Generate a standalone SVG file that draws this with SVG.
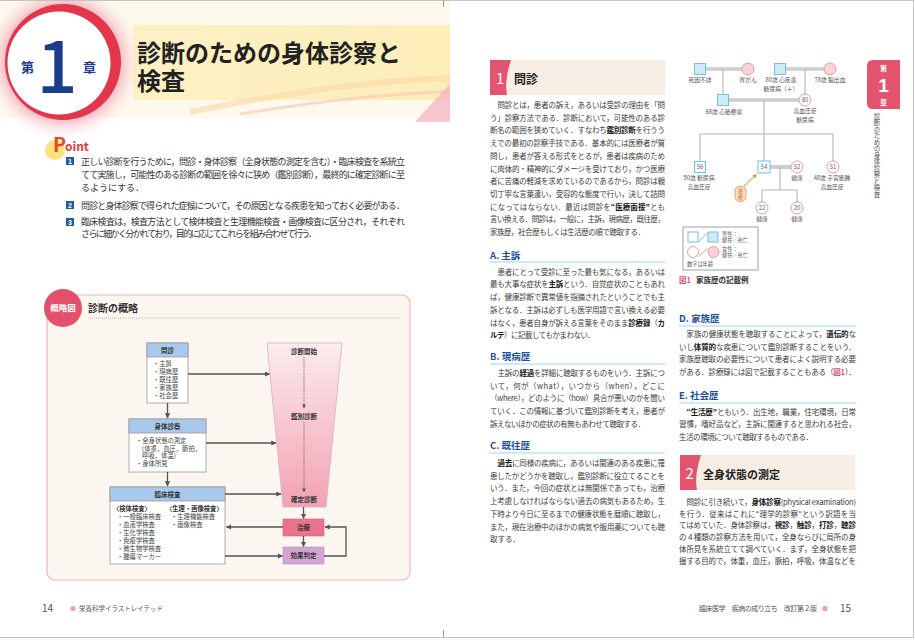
<svg xmlns="http://www.w3.org/2000/svg" width="915" height="640" viewBox="0 0 915 640">
<defs>
<style>
text{font-family:"Noto Sans CJK JP","Noto Sans",sans-serif}
.bt{font-size:7.5px;fill:#3a3a3a}
.b{font-weight:700;fill:#151515}
.h{font-size:9.5px;font-weight:700;fill:#1d4f9f}
.ul{stroke:#9fd6f0;stroke-width:1.1}
.pt{font-size:9px;fill:#333}
.num{font-family:"Liberation Sans",sans-serif;font-size:7px;font-weight:700;fill:#fff;text-anchor:middle}
.dg{font-size:6.3px;fill:#444}
.dgb{font-size:6.5px;font-weight:700;fill:#333;text-anchor:middle}
.dgh{font-size:6.3px;font-weight:700;fill:#333}
.box{fill:#fff;stroke:#9a9a9a;stroke-width:.8}
.hdr{fill:#a9c9ec;stroke:#9a9a9a;stroke-width:.8}
.ar{stroke:#555;stroke-width:1.3;fill:none;marker-end:url(#ah)}
.dot{stroke:#666;stroke-width:1;fill:none;stroke-dasharray:1.2 1.2;marker-end:url(#ah)}
.fl{stroke:#b4b4b4;stroke-width:1.1;fill:none}
.mr{stroke:#b0b0b0;stroke-width:3.2;fill:none}
.mr2{stroke:#ededed;stroke-width:1;fill:none}
.sqd{fill:#cfe9f8;stroke:#6cc2e8;stroke-width:1}
.sqa{fill:#fff;stroke:#6cc2e8;stroke-width:1}
.cd{fill:#f8d4d9;stroke:#e98f9c;stroke-width:.9}
.ca{fill:#fff;stroke:#e98f9c;stroke-width:.9}
.fn{font-size:5.8px;fill:#555;text-anchor:middle}
.fa{font-size:6px;fill:#666;text-anchor:middle}
.lg{font-size:5.2px;fill:#555}
</style>
<marker id="ah" viewBox="0 0 10 10" refX="9" refY="5" markerWidth="4" markerHeight="4" orient="auto"><path d="M0,0 L10,5 L0,10 Z" fill="#555"/></marker>
<marker id="oh" viewBox="0 0 10 10" refX="9" refY="5" markerWidth="4" markerHeight="4" orient="auto"><path d="M0,0 L10,5 L0,10 Z" fill="#ef8a3c"/></marker>
<radialGradient id="glow" cx="0.5" cy="0.5" r="0.5">
<stop offset="0.7" stop-color="#f3a3b0" stop-opacity="0.9"/>
<stop offset="1" stop-color="#fde8ea" stop-opacity="0"/>
</radialGradient>
<linearGradient id="band" x1="0" y1="0" x2="1" y2="0">
<stop offset="0" stop-color="#fdf0c4"/>
<stop offset="1" stop-color="#fdeeb9"/>
</linearGradient>
<linearGradient id="fun" x1="0" y1="0" x2="0" y2="1">
<stop offset="0" stop-color="#fcebee"/>
<stop offset="1" stop-color="#f2a2b2"/>
</linearGradient>
</defs>

<rect width="915" height="640" fill="#fff"/>

<!-- Header -->
<g id="header">
<rect x="0" y="0" width="450" height="118" fill="#fdf9ec"/>
<rect x="133" y="25" width="317" height="75" fill="url(#band)"/>
<path d="M190,112 C270,96 350,82 450,78" stroke="#fbd6a6" stroke-width="6" fill="none" opacity="0.55"/>
<path d="M240,114 C320,101 390,93 450,92" stroke="#f8c4b6" stroke-width="3" fill="none" opacity="0.6"/>
<path d="M415,122 C428,108 438,96 450,84 L450,122 Z" fill="#f4b0c0" opacity="0.7"/>
<circle cx="63" cy="62" r="78" fill="url(#glow)"/>
<circle cx="63" cy="62" r="58" fill="#e3354b"/>
<circle cx="59" cy="63" r="51.5" fill="#fff"/>
<text x="21" y="72" font-size="13" font-weight="700" fill="#1c3c8e">第</text>
<text x="57" y="93" font-family="Noto Sans,sans-serif" font-size="72" font-weight="500" fill="#1c3c8e" text-anchor="middle">1</text>
<text x="83" y="72" font-size="13" font-weight="700" fill="#1c3c8e">章</text>
<text x="137" y="62" font-size="24" font-weight="700" fill="#222">診断のための身体診察と<tspan x="137" y="90">検査</tspan></text>
</g>

<!-- Point -->
<g id="point">
<circle cx="55" cy="150" r="10" fill="#fbe27c"/>
<text x="53" y="152" font-family="Liberation Sans,sans-serif" font-size="19.5" font-weight="700" fill="#e9452e">P</text>
<text x="65" y="151" font-family="Liberation Sans,sans-serif" font-size="12" font-weight="700" fill="#e8383d">oint</text>
<rect x="66" y="157" width="8" height="8" fill="#1f5aa6"/><text class="num" x="70" y="163.6">1</text>
<text class="pt" x="81" y="165" textLength="324" lengthAdjust="spacing">正しい診断を行うために，問診・身体診察（全身状態の測定を含む）・臨床検査を系統立</text>
<text class="pt" x="81" y="178.3" textLength="324" lengthAdjust="spacing">てて実施し，可能性のある診断の範囲を徐々に狭め（鑑別診断），最終的に確定診断に至</text>
<text class="pt" x="81" y="190.8">るようにする．</text>
<rect x="66" y="201" width="8" height="8" fill="#1f5aa6"/><text class="num" x="70" y="207.6">2</text>
<text class="pt" x="81" y="208.5" textLength="324" lengthAdjust="spacing">問診と身体診察で得られた症候について，その原因となる疾患を知っておく必要がある．</text>
<rect x="66" y="218" width="8" height="8" fill="#1f5aa6"/><text class="num" x="70" y="224.6">3</text>
<text class="pt" x="81" y="225" textLength="324" lengthAdjust="spacing">臨床検査は，検査方法として検体検査と生理機能検査・画像検査に区分され，それぞれ</text>
<text class="pt" x="81" y="237" textLength="236" lengthAdjust="spacing">さらに細かく分かれており，目的に応じてこれらを組み合わせて行う．</text>
</g>

<!-- Overview frame -->
<g id="overview-frame">
<rect x="47" y="295" width="363" height="285" rx="8" fill="#fcf6f1" stroke="#f5b3bd" stroke-width="1.2"/>
<circle cx="63" cy="308" r="19" fill="#e4506c"/>
<text x="63" y="311" font-size="8.5" font-weight="700" fill="#fff" text-anchor="middle">概略図</text>
<text x="88" y="312" font-size="10" font-weight="700" fill="#333">診断の概略</text>
<line x1="88" y1="318" x2="400" y2="318" stroke="#aaa" stroke-width=".8" stroke-dasharray="1 1"/>
</g>

<g id="n-monshin">
<rect class="box" x="147" y="343" width="41" height="60"/>
<rect class="hdr" x="147" y="343" width="41" height="14"/>
<text class="dgb" x="167.5" y="352.5">問診</text>
<text class="dg" x="153" y="366">・主訴</text>
<text class="dg" x="153" y="374">・現病歴</text>
<text class="dg" x="153" y="382">・既往歴</text>
<text class="dg" x="153" y="390">・家族歴</text>
<text class="dg" x="153" y="398">・社会歴</text>
</g>

<g id="n-shintai">
<rect class="box" x="129" y="419" width="77" height="53"/>
<rect class="hdr" x="129" y="419" width="77" height="14"/>
<text class="dgb" x="167.5" y="428.5">身体診察</text>
<text class="dg" x="136" y="443">・全身状態の測定</text>
<text class="dg" x="138" y="450.5">（体重，血圧，脈拍，</text>
<text class="dg" x="142" y="458.3">呼吸，体温）</text>
<text class="dg" x="136" y="466.3">・身体所見</text>
</g>

<g id="n-rinsho">
<rect class="box" x="110" y="487" width="115" height="77"/>
<rect class="hdr" x="110" y="487" width="115" height="14"/>
<text class="dgb" x="167.5" y="496.5">臨床検査</text>
<text class="dgh" x="113" y="510.5">〈検体検査〉</text>
<text class="dgh" x="166" y="510.5">〈生理・画像検査〉</text>
<text class="dg" x="117" y="519">・一般臨床検査</text>
<text class="dg" x="117" y="527">・血液学検査</text>
<text class="dg" x="117" y="535">・生化学検査</text>
<text class="dg" x="117" y="543">・免疫学検査</text>
<text class="dg" x="117" y="551">・微生物学検査</text>
<text class="dg" x="117" y="559">・腫瘍マーカー</text>
<text class="dg" x="171" y="519">・生理機能検査</text>
<text class="dg" x="171" y="527">・画像検査</text>
</g>

<g id="n-funnel">
<polygon points="267,343 342,343 326,507 283,507" fill="url(#fun)" stroke="#d8b3bb" stroke-width=".8"/>
<text class="dgb" x="304" y="354">診断開始</text>
<text class="dgb" x="304" y="418.5">鑑別診断</text>
<text class="dgb" x="304" y="501.5">確定診断</text>
</g>

<g id="n-chiryo">
<rect x="283" y="519" width="41" height="17" fill="#e9728c" stroke="#c9657a" stroke-width=".6"/>
<text class="dgb" x="303.5" y="530">治療</text>
</g>

<g id="n-koka">
<rect x="283" y="547" width="41" height="17" fill="#d3a4d3" stroke="#b58db5" stroke-width=".6"/>
<text class="dgb" x="303.5" y="558">効果判定</text>
</g>

<g id="connectors">
<line class="ar" x1="188" y1="374" x2="269.5" y2="374"/>
<line class="ar" x1="206" y1="443" x2="276" y2="443"/>
<line class="ar" x1="225" y1="494" x2="281" y2="494"/>
<line class="ar" x1="167.5" y1="403" x2="167.5" y2="418"/>
<line class="ar" x1="167.5" y1="472" x2="167.5" y2="486"/>
<line class="dot" x1="304" y1="357" x2="304" y2="408"/>
<line class="dot" x1="304" y1="422" x2="304" y2="492"/>
<line class="ar" x1="303.5" y1="507" x2="303.5" y2="518.5"/>
<line class="ar" x1="303.5" y1="536" x2="303.5" y2="546.5"/>
<line class="ar" x1="283" y1="527" x2="226.5" y2="527"/>
<line class="ar" x1="225" y1="556" x2="282.5" y2="556"/>
<polyline class="ar" points="324,556 346,556 346,527 325,527"/>
</g>

<!-- Right page: section 1 -->
<g id="sec1">
<rect x="490" y="60" width="175" height="35" fill="#f6eee4"/>
<path d="M490,60 L511,60 C507,72 505,84 507,95 L490,95 Z" fill="#e5546f"/>
<text x="496" y="84" font-family="Liberation Sans,sans-serif" font-size="15" fill="#fff">1</text>
<text x="514" y="83.5" font-size="12" font-weight="700" fill="#222">問診</text>
<text class="bt" x="497.5" y="108" textLength="167.5" lengthAdjust="spacing">問診とは，患者の訴え，あるいは受診の理由を「問</text>
<text class="bt" x="490" y="120.7" textLength="175" lengthAdjust="spacing">う」診察方法である．診断において，可能性のある診</text>
<text class="bt" x="490" y="133.4" textLength="175" lengthAdjust="spacing">断名の範囲を狭めていく．すなわち<tspan class="b">鑑別診断</tspan>を行うう</text>
<text class="bt" x="490" y="146.1" textLength="175" lengthAdjust="spacing">えでの最初の診察手技である．基本的には医療者が質</text>
<text class="bt" x="490" y="158.8" textLength="175" lengthAdjust="spacing">問し，患者が答える形式をとるが，患者は疾病のため</text>
<text class="bt" x="490" y="171.5" textLength="175" lengthAdjust="spacing">に肉体的・精神的にダメージを受けており，かつ医療</text>
<text class="bt" x="490" y="184.2" textLength="175" lengthAdjust="spacing">者に苦痛の軽減を求めているのであるから，問診は親</text>
<text class="bt" x="490" y="196.9" textLength="175" lengthAdjust="spacing">切丁寧な言葉遣い，受容的な態度で行い，決して詰問</text>
<text class="bt" x="490" y="209.6" textLength="175" lengthAdjust="spacing">になってはならない．最近は問診を<tspan class="b">“医療面接”</tspan>とも</text>
<text class="bt" x="490" y="222.3" textLength="175" lengthAdjust="spacing">言い換える．問診は，一般に，主訴，現病歴，既往歴，</text>
<text class="bt" x="490" y="235" textLength="155" lengthAdjust="spacing">家族歴，社会歴もしくは生活歴の順で聴取する．</text>

<text class="h" x="490" y="258.5">A. 主訴</text>
<line class="ul" x1="490" y1="262" x2="665" y2="262"/>
<text class="bt" x="497.5" y="274.7" textLength="167.5" lengthAdjust="spacing">患者にとって受診に至った最も気になる，あるいは</text>
<text class="bt" x="490" y="287.4" textLength="175" lengthAdjust="spacing">最も大事な症状を<tspan class="b">主訴</tspan>という．自覚症状のこともあれ</text>
<text class="bt" x="490" y="300.1" textLength="175" lengthAdjust="spacing">ば，健康診断で異常値を指摘されたということでも主</text>
<text class="bt" x="490" y="312.8" textLength="175" lengthAdjust="spacing">訴となる．主訴は必ずしも医学用語で言い換える必要</text>
<text class="bt" x="490" y="325.5" textLength="175" lengthAdjust="spacing">はなく，患者自身が訴える言葉をそのまま<tspan class="b">診療録</tspan>（<tspan class="b">カ</tspan></text>
<text class="bt" x="490" y="338.2" textLength="105" lengthAdjust="spacing"><tspan class="b">ルテ</tspan>）に記載してもかまわない．</text>

<text class="h" x="490" y="360">B. 現病歴</text>
<line class="ul" x1="490" y1="364" x2="665" y2="364"/>
<text class="bt" x="497.5" y="376" textLength="167.5" lengthAdjust="spacing">主訴の<tspan class="b">経過</tspan>を詳細に聴取するものをいう．主訴につ</text>
<text class="bt" x="490" y="388.7" textLength="175" lengthAdjust="spacing">いて，何が（what），いつから（when），どこに</text>
<text class="bt" x="490" y="401.4" textLength="175" lengthAdjust="spacing">（where），どのように（how）具合が悪いのかを聞い</text>
<text class="bt" x="490" y="414.1" textLength="175" lengthAdjust="spacing">ていく．この情報に基づいて鑑別診断を考え，患者が</text>
<text class="bt" x="490" y="426.8" textLength="155" lengthAdjust="spacing">訴えないほかの症状の有無もあわせて聴取する．</text>

<text class="h" x="490" y="449">C. 既往歴</text>
<line class="ul" x1="490" y1="453" x2="665" y2="453"/>
<text class="bt" x="497.5" y="466" textLength="167.5" lengthAdjust="spacing"><tspan class="b">過去</tspan>に同様の疾病に，あるいは関連のある疾患に罹</text>
<text class="bt" x="490" y="478.7" textLength="175" lengthAdjust="spacing">患したかどうかを聴取し，鑑別診断に役立てることを</text>
<text class="bt" x="490" y="491.4" textLength="175" lengthAdjust="spacing">いう．また，今回の症状とは無関係であっても，治療</text>
<text class="bt" x="490" y="504.1" textLength="175" lengthAdjust="spacing">上考慮しなければならない過去の病気もあるため，生</text>
<text class="bt" x="490" y="516.8" textLength="175" lengthAdjust="spacing">下時より今日に至るまでの健康状態を暦順に聴取し，</text>
<text class="bt" x="490" y="529.5" textLength="175" lengthAdjust="spacing">また，現在治療中のほかの病気や服用薬についても聴</text>
<text class="bt" x="490" y="542.2">取する．</text>
</g>

<!-- Family tree -->
<g id="family-lines">
<line class="mr" x1="705.5" y1="69" x2="742" y2="69"/><line class="mr2" x1="705.5" y1="69" x2="742" y2="69"/>
<line class="mr" x1="785.5" y1="69" x2="824" y2="69"/><line class="mr2" x1="785.5" y1="69" x2="824" y2="69"/>
<line class="fl" x1="723" y1="69" x2="723" y2="94.5"/>
<line class="fl" x1="805" y1="69" x2="805" y2="94"/>
<line class="mr" x1="728.5" y1="100" x2="799" y2="100"/><line class="mr2" x1="728.5" y1="100" x2="799" y2="100"/>
<line class="fl" x1="764" y1="100" x2="764" y2="134"/>
<line class="fl" x1="700" y1="134" x2="833" y2="134"/>
<line class="fl" x1="700" y1="134" x2="700" y2="161.5"/>
<line class="fl" x1="764" y1="134" x2="764" y2="161"/>
<line class="fl" x1="833" y1="134" x2="833" y2="161"/>
<line class="mr" x1="770" y1="167" x2="791" y2="167"/><line class="mr2" x1="770" y1="167" x2="791" y2="167"/>
<line class="fl" x1="780" y1="167" x2="780" y2="190"/>
<line class="fl" x1="762" y1="190" x2="797" y2="190"/>
<line class="fl" x1="762" y1="190" x2="762" y2="202"/>
<line class="fl" x1="797" y1="190" x2="797" y2="202"/>
</g>
<g id="f-m1"><rect class="sqd" x="694.5" y="63.5" width="11" height="11"/><text class="fn" x="700" y="82">死因不詳</text></g>
<g id="f-f1"><circle class="cd" cx="748" cy="69" r="6"/><text class="fn" x="748" y="82">胃がん</text></g>
<g id="f-m2"><rect class="sqd" x="774.5" y="63.5" width="11" height="11"/><text class="fn" x="781" y="82">80歳 心疾患</text><text class="fn" x="781" y="91">糖尿病（＋）</text></g>
<g id="f-f2"><circle class="cd" cx="830" cy="69" r="6"/><text class="fn" x="830" y="82">78歳 脳出血</text></g>
<g id="f-m3"><rect class="sqd" x="717.5" y="94.5" width="11" height="11"/><text class="fn" x="724" y="114">68歳 心筋梗塞</text></g>
<g id="f-f3"><circle class="ca" cx="805" cy="100" r="6"/><text class="fa" x="805" y="102.2">80</text><text class="fn" x="805" y="112.5">高血圧症</text><text class="fn" x="805" y="122">糖尿病</text></g>
<g id="f-56"><rect class="sqa" x="694.5" y="161.5" width="11" height="11"/><text class="fa" x="700" y="169.2">56</text><text class="fn" x="699" y="180">50歳 糖尿病</text><text class="fn" x="699" y="189">高血圧症</text></g>
<g id="f-54"><rect class="sqa" x="758" y="161" width="12" height="12" stroke-width="1.8"/><text class="fa" x="764" y="169.2">54</text></g>
<g id="f-52"><circle class="ca" cx="797" cy="167" r="6"/><text class="fa" x="797" y="169.2">52</text><text class="fn" x="797" y="180">健康</text></g>
<g id="f-51"><circle class="ca" cx="833" cy="167" r="6"/><text class="fa" x="833" y="169.2">51</text><text class="fn" x="832" y="180">48歳 子宮筋腫</text><text class="fn" x="832" y="189">高血圧症</text></g>
<g id="f-22"><circle class="ca" cx="762" cy="208" r="6"/><text class="fa" x="762" y="210.2">22</text><text class="fn" x="762" y="221">健康</text></g>
<g id="f-20"><circle class="ca" cx="797" cy="208" r="6"/><text class="fa" x="797" y="210.2">20</text><text class="fn" x="797" y="221">健康</text></g>
<g id="f-patient">
<line x1="744" y1="186" x2="756.5" y2="174.5" stroke="#ef8a3c" stroke-width="1" marker-end="url(#oh)"/>
<rect x="735" y="186" width="11" height="15.5" rx="5" fill="#fde0c4" stroke="#ef8a3c" stroke-width=".8"/>
<text x="740.5" y="192.8" font-size="5.3" fill="#c0601a" text-anchor="middle">患</text>
<text x="740.5" y="199" font-size="5.3" fill="#c0601a" text-anchor="middle">者</text>
</g>
<g id="legend">
<rect x="683" y="227" width="75" height="43" fill="#fff" stroke="#a0a0a0" stroke-width="1"/>
<rect class="sqa" x="688" y="232" width="10" height="10"/>
<line x1="698.5" y1="242" x2="707.5" y2="233" stroke="#888" stroke-width=".7"/>
<rect class="sqd" x="708" y="232" width="10" height="10"/>
<text class="lg" x="722" y="235.5">男性：</text>
<text class="lg" x="722" y="241.7">健在／死亡</text>
<circle class="ca" cx="693" cy="252" r="5.5"/>
<line x1="698.5" y1="257" x2="707.5" y2="248" stroke="#888" stroke-width=".7"/>
<circle class="cd" cx="713.5" cy="252" r="5.5"/>
<text class="lg" x="722" y="250.5">女性：</text>
<text class="lg" x="722" y="256.7">健在／死亡</text>
<text class="lg" x="687" y="266">数字は年齢</text>
</g>
<g id="caption">
<text x="679" y="283" font-size="7.5" font-weight="700"><tspan fill="#e4507a">図1</tspan><tspan dx="5" fill="#333">家族歴の記載例</tspan></text>
</g>

<!-- Right column text -->
<g id="sec1-right">
<text class="h" x="679" y="322">D. 家族歴</text>
<line class="ul" x1="679" y1="326" x2="856" y2="326"/>
<text class="bt" x="686.5" y="337" textLength="169.5" lengthAdjust="spacing">家族の健康状態を聴取することによって，<tspan class="b">遺伝的</tspan>な</text>
<text class="bt" x="679" y="349.7" textLength="177" lengthAdjust="spacing">いし<tspan class="b">体質的</tspan>な疾患について鑑別診断することをいう．</text>
<text class="bt" x="679" y="362.4" textLength="177" lengthAdjust="spacing">家族歴聴取の必要性について患者によく説明する必要</text>
<text class="bt" x="679" y="375.1" textLength="177" lengthAdjust="spacing">がある．診療録には図で記載することもある（<tspan fill="#e4507a" font-weight="700">図1</tspan>）．</text>

<text class="h" x="679" y="399">E. 社会歴</text>
<line class="ul" x1="679" y1="403" x2="856" y2="403"/>
<text class="bt" x="686.5" y="414.5" textLength="169.5" lengthAdjust="spacing"><tspan class="b">“生活歴”</tspan>ともいう．出生地，職業，住宅環境，日常</text>
<text class="bt" x="679" y="427" textLength="177" lengthAdjust="spacing">習慣，嗜好品など，主訴に関連すると思われる社会，</text>
<text class="bt" x="679" y="439.5" textLength="134" lengthAdjust="spacing">生活の環境について聴取するものである．</text>
</g>

<g id="sec2">
<rect x="680" y="455" width="175" height="35" fill="#f6eee4"/>
<path d="M680,455 L701,455 C697,467 695,479 697,490 L680,490 Z" fill="#e5546f"/>
<text x="685.5" y="479" font-family="Liberation Sans,sans-serif" font-size="15" fill="#fff">2</text>
<text x="703" y="479" font-size="11" font-weight="700" fill="#222">全身状態の測定</text>
<text class="bt" x="686.5" y="504.7" textLength="169.5" lengthAdjust="spacing">問診に引き続いて，<tspan class="b">身体診察</tspan>(physical examination)</text>
<text class="bt" x="679" y="516.5" textLength="177" lengthAdjust="spacing">を行う．従来はこれに“理学的診察”という訳語を当</text>
<text class="bt" x="679" y="528.3" textLength="177" lengthAdjust="spacing">てはめていた．身体診察は，<tspan class="b">視診</tspan>，<tspan class="b">触診</tspan>，<tspan class="b">打診</tspan>，<tspan class="b">聴診</tspan></text>
<text class="bt" x="679" y="540.1" textLength="177" lengthAdjust="spacing">の４種類の診察方法を用いて，全身ならびに局所の身</text>
<text class="bt" x="679" y="551.9" textLength="177" lengthAdjust="spacing">体所見を系統立てて調べていく．まず，全身状態を把</text>
<text class="bt" x="679" y="563.7" textLength="177" lengthAdjust="spacing">握する目的で，体重，血圧，脈拍，呼吸，体温などを</text>
</g>

<!-- Side tab -->
<g id="side-tab">
<path d="M873,60 H900 V109 H873 Q867,109 867,103 V66 Q867,60 873,60 Z" fill="#e5546f"/>
<text x="883.5" y="71" font-size="7" font-weight="700" fill="#fff" text-anchor="middle">第<tspan x="883.5" y="92" font-family="Liberation Sans,sans-serif" font-size="19">1</tspan><tspan x="883.5" y="105">章</tspan></text>
<text x="877" y="113" font-size="6.5" fill="#555" style="writing-mode:vertical-rl">診断のための身体診察と検査</text>
</g>

<!-- Footer -->
<g id="footer">
<text x="42" y="612" font-family="Liberation Sans,sans-serif" font-size="10" fill="#555">14</text>
<circle cx="73" cy="608.5" r="2.6" fill="#f29bb0"/>
<text x="79" y="611" font-size="6.5" fill="#555" textLength="84" lengthAdjust="spacing">栄養科学イラストレイテッド</text>
<text x="699" y="611" font-size="7" fill="#555" textLength="118" lengthAdjust="spacing">臨床医学　疾病の成り立ち　改訂第２版</text>
<circle cx="825" cy="608.5" r="2.6" fill="#f29bb0"/>
<text x="840" y="612" font-family="Liberation Sans,sans-serif" font-size="10" fill="#555">15</text>
</g>

<!-- Page frame -->
<g id="frame" stroke="#c4c4c4" stroke-width="1" fill="none">
<line x1="0" y1="0.5" x2="914" y2="0.5"/>
<line x1="913.5" y1="0" x2="913.5" y2="637.5"/>
<line x1="0" y1="637.5" x2="914" y2="637.5"/>
<line x1="443.5" y1="0" x2="443.5" y2="7" stroke="#999"/>
<line x1="443.5" y1="630" x2="443.5" y2="637" stroke="#999"/>
</g>
</svg>
